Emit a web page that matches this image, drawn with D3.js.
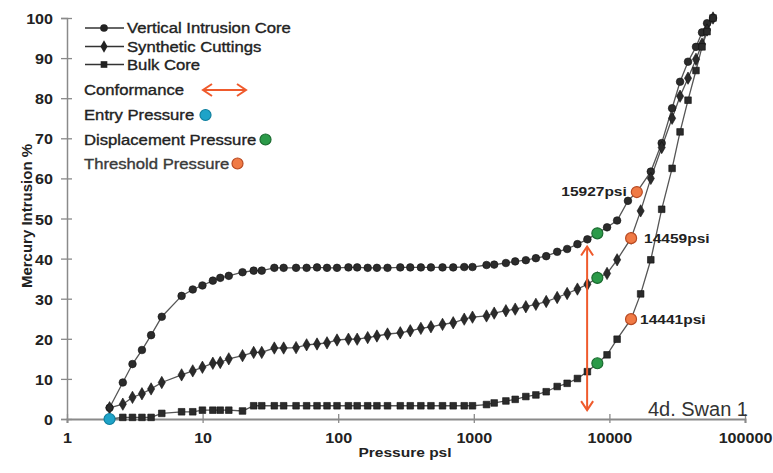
<!DOCTYPE html>
<html><head><meta charset="utf-8">
<script src="https://cdn.jsdelivr.net/npm/d3@7"></script>
<style>
html,body{margin:0;padding:0;background:#fff;}
text{font-family:"Liberation Sans",Arial,sans-serif;}
</style></head>
<body><svg id="chart" width="773" height="473"></svg>
<script>
// ---------------- data ----------------
const basePressures = [2.06, 2.58, 3.04, 3.57, 4.17, 5.0, 7.0, 8.46, 9.97, 11.9, 13.5, 15.6, 19.7, 23.8, 27.3, 33.8, 39.6, 48.9, 58.5, 69.8, 82.7, 98, 119, 138, 165, 193, 231, 287, 340, 407, 483, 588, 705, 850, 978, 1241, 1414, 1725, 2020, 2420, 2870, 3420, 4120, 4880, 5810, 6880, 8150, 9610, 11400];

const vicBase = [2.8, 9.1, 13.7, 17.2, 20.9, 25.5, 30.7, 32.3, 33.3, 34.5, 35.2, 35.7, 36.6, 37.0, 37.0, 37.7, 37.7, 37.7, 37.7, 37.8, 37.7, 37.7, 37.8, 37.8, 37.7, 37.7, 37.7, 37.8, 37.8, 37.8, 37.8, 37.8, 37.8, 37.9, 37.9, 38.4, 38.5, 38.9, 39.3, 39.6, 40.1, 40.6, 41.7, 42.4, 43.6, 44.8, 46.3, 47.8, 49.5];
const vicTailPressures = [13700, 15927, 20200, 24300, 29000, 33200, 38000, 43500, 48200, 52500, 58100];
const vicTailValues = [54.4, 56.6, 61.7, 68.8, 77.5, 84.1, 89.1, 92.8, 96.4, 98.7, 100];

const synBase = [2.8, 3.7, 5.4, 6.3, 7.5, 9.1, 11.0, 12.0, 12.9, 13.9, 14.1, 15.0, 15.8, 16.6, 16.6, 17.7, 17.7, 17.8, 18.5, 18.7, 19.0, 19.7, 19.9, 19.9, 20.3, 20.7, 21.2, 21.5, 22.0, 22.6, 23.0, 23.6, 24.0, 24.9, 25.4, 25.7, 26.4, 27.0, 27.4, 28.0, 28.6, 29.3, 30.3, 31.3, 32.4, 33.6, 35.2, 36.3, 39.7];
const synTailPressures = [14459, 17000, 20200, 24300, 29000, 33200, 38000, 43500, 48200, 52500, 58100];
const synTailValues = [45.1, 51.9, 60.0, 67.7, 75.0, 80.5, 85.0, 89.7, 93.5, 97.0, 100];

const bulkBase = [0, 0.4, 0.4, 0.4, 0.4, 1.4, 1.8, 1.8, 2.2, 2.2, 2.2, 2.2, 2.0, 3.3, 3.3, 3.3, 3.3, 3.3, 3.3, 3.3, 3.3, 3.3, 3.3, 3.3, 3.3, 3.3, 3.3, 3.3, 3.3, 3.3, 3.3, 3.3, 3.3, 3.3, 3.3, 3.6, 4.0, 4.5, 4.9, 5.6, 6.0, 6.8, 8.1, 8.9, 10.1, 11.8, 13.9, 16.0, 19.9];
const bulkTailPressures = [14441, 17000, 20200, 24300, 29000, 33200, 38000, 43500, 48200, 52500, 58100];
const bulkTailValues = [24.9, 31.2, 39.7, 52.3, 62.5, 71.6, 79.5, 86.9, 92.8, 96.6, 100];

const seriesNames = ["Vertical Intrusion Core", "Synthetic Cuttings", "Bulk Core"];
const seriesSymbols = ["circle", "diamond", "square"];

const entryPoint = {p: 2.06, v: 0};
const displacementPoints = [{p: 8150, v: 46.3}, {p: 8150, v: 35.2}, {p: 8150, v: 13.9}];
const thresholdPoints = [{p: 15927, v: 56.6, label: "15927psi"}, {p: 14459, v: 45.1, label: "14459psi"}, {p: 14441, v: 24.9, label: "14441psi"}];
const conformancePressure = 6850;
const conformanceRange = [2.2, 43.0];

const xTicks = [1, 10, 100, 1000, 10000, 100000];
const yTicks = [0, 10, 20, 30, 40, 50, 60, 70, 80, 90, 100];
const xTitle = "Pressure psl";
const yTitle = "Mercury Intrusion %";
const sampleName = "4d. Swan 1";

// ---------------- build ----------------
function zip(ps, vs) { return ps.map((p, i) => ({p, v: vs[i]})); }
const series = [
  zip(basePressures, vicBase).concat(zip(vicTailPressures, vicTailValues)),
  zip(basePressures, synBase).concat(zip(synTailPressures, synTailValues)),
  zip(basePressures, bulkBase).concat(zip(bulkTailPressures, bulkTailValues))
];

const svg = d3.select("#chart");
const x = d3.scaleLog().domain([1, 100000]).range([67, 745]);
const y = d3.scaleLinear().domain([0, 100]).range([419, 18]);

const AX = "#8a8a8a", TXT = "#222";
const ORANGE = "#ef5a2c";
const SX = 1.15; // horizontal stretch of the original picture's lettering

// stretched text helper
function stext(parent, tx, ty, str, opt) {
  opt = opt || {};
  const t = parent.append("text")
    .attr("transform", `translate(${tx},${ty}) scale(${SX},1)`)
    .attr("font-size", opt.size || 14.5)
    .attr("font-weight", opt.weight || "normal")
    .attr("fill", opt.fill || TXT)
    .attr("text-anchor", opt.anchor || "start")
    .text(str);
  if (opt.stroke) t.attr("stroke", opt.fill || TXT).attr("stroke-width", opt.stroke);
  return t;
}

// y axis
const yAx = svg.append("g").attr("transform", `translate(${x(1)},0)`)
  .call(d3.axisLeft(y).tickValues(yTicks).tickSize(6).tickPadding(8).tickFormat(d3.format("d")));
yAx.select(".domain").attr("stroke", AX).attr("stroke-width", 1.5);
yAx.selectAll(".tick line").attr("stroke", AX).attr("stroke-width", 1.3).attr("x1", 5);
yAx.selectAll(".tick text").each(function() {
  const t = d3.select(this);
  t.attr("x", null).attr("dy", null)
   .attr("transform", `translate(-14,5.5) scale(${SX},1)`)
   .attr("fill", TXT).attr("font-size", 14).attr("font-weight", "bold");
});

// x axis
const xAx = svg.append("g").attr("transform", `translate(0,${y(0)})`)
  .call(d3.axisBottom(x).tickValues(xTicks).tickSize(4).tickPadding(8).tickFormat(d3.format("d")));
xAx.select(".domain").attr("stroke", AX).attr("stroke-width", 2);
xAx.selectAll(".tick line").attr("stroke", AX).attr("stroke-width", 1.3).attr("y1", -5);
xAx.selectAll(".tick text").each(function() {
  const t = d3.select(this);
  t.attr("y", null).attr("dy", null)
   .attr("transform", `translate(0,24) scale(${SX},1)`)
   .attr("fill", TXT).attr("font-size", 14).attr("font-weight", "bold");
});

// axis titles
stext(svg, 405, 457, xTitle, {size: 13.5, weight: "bold", anchor: "middle"});
svg.append("text").attr("transform", "translate(32,216) rotate(-90)").attr("text-anchor", "middle")
  .attr("font-size", 15).attr("font-weight", "bold").attr("fill", TXT).text(yTitle);

// series
const line = d3.line().x(d => x(d.p)).y(d => y(d.v));
const symType = {circle: d3.symbolCircle, diamond: d3.symbolDiamond, square: d3.symbolSquare};
const symSize = {circle: 46, diamond: 44, square: 44};
series.forEach((s, i) => {
  svg.append("path").datum(s).attr("d", line).attr("fill", "none").attr("stroke", "#555").attr("stroke-width", 1.3);
});
series.forEach((s, i) => {
  const sym = d3.symbol().type(symType[seriesSymbols[i]]).size(symSize[seriesSymbols[i]]);
  svg.append("g").selectAll("path").data(s).join("path")
    .attr("transform", d => `translate(${x(d.p)},${y(d.v)})`)
    .attr("d", sym).attr("fill", "#2b2b2b").attr("stroke", "#111").attr("stroke-width", 0.6);
});

// conformance arrow
function vArrow(g, xx, y1, y2) {
  g.append("line").attr("x1", xx).attr("x2", xx).attr("y1", y1).attr("y2", y2);
  g.append("path").attr("d", `M${xx-6},${y1+9}L${xx},${y1}L${xx+6},${y1+9}`).attr("fill", "none");
  g.append("path").attr("d", `M${xx-6},${y2-9}L${xx},${y2}L${xx+6},${y2-9}`).attr("fill", "none");
}
const arr = svg.append("g").attr("stroke", ORANGE).attr("stroke-width", 2);
vArrow(arr, x(conformancePressure), y(conformanceRange[1]), y(conformanceRange[0]));

// highlight points
function dot(cx, cy, fill, stroke) {
  svg.append("circle").attr("cx", cx).attr("cy", cy).attr("r", 5.5).attr("fill", fill).attr("stroke", stroke).attr("stroke-width", 1.2);
}
const CYAN = "#1ea3c8", CYAN_S = "#0f7f9e";
const GREEN = "#2b9a49", GREEN_S = "#1b6b30";
const ORDOT = "#f07a45", ORDOT_S = "#b84a22";
dot(x(entryPoint.p), y(entryPoint.v), CYAN, CYAN_S);
displacementPoints.forEach(d => dot(x(d.p), y(d.v), GREEN, GREEN_S));
thresholdPoints.forEach(d => dot(x(d.p), y(d.v), ORDOT, ORDOT_S));

// threshold labels
const lblOpt = {size: 13.5, weight: "bold"};
stext(svg, x(thresholdPoints[0].p) - 10, y(thresholdPoints[0].v) + 4, thresholdPoints[0].label, Object.assign({anchor: "end"}, lblOpt));
stext(svg, x(thresholdPoints[1].p) + 13, y(thresholdPoints[1].v) + 5, thresholdPoints[1].label, lblOpt);
stext(svg, x(thresholdPoints[2].p) + 9, y(thresholdPoints[2].v) + 5, thresholdPoints[2].label, lblOpt);

// sample name
svg.append("text").attr("x", 748).attr("y", 416).attr("text-anchor", "end").attr("font-size", 20)
  .attr("fill", "#333").text(sampleName);

// legend
const legOpt = {size: 14.5, stroke: 0.35};
const legRows = [28, 46.5, 64.5];
seriesNames.forEach((n, i) => {
  const g = svg.append("g");
  g.append("line").attr("x1", 85).attr("x2", 124).attr("y1", legRows[i]).attr("y2", legRows[i]).attr("stroke", "#333").attr("stroke-width", 1.3);
  g.append("path").attr("transform", `translate(104,${legRows[i]})`)
    .attr("d", d3.symbol().type(symType[seriesSymbols[i]]).size(symSize[seriesSymbols[i]])()).attr("fill", "#222");
  stext(g, 127, legRows[i] + 5, n, legOpt);
});
stext(svg, 84, 95, "Conformance", legOpt);
const la = svg.append("g").attr("stroke", ORANGE).attr("stroke-width", 2).attr("fill", "none");
la.append("line").attr("x1", 203).attr("x2", 246).attr("y1", 90).attr("y2", 90);
la.append("path").attr("d", "M212,84L203,90L212,96");
la.append("path").attr("d", "M237,84L246,90L237,96");
stext(svg, 84, 120, "Entry Pressure", legOpt);
dot(205.5, 115, CYAN, CYAN_S);
stext(svg, 84, 145, "Displacement Pressure", legOpt);
dot(265.5, 139.5, GREEN, GREEN_S);
stext(svg, 84, 169, "Threshold Pressure", Object.assign({}, legOpt, {fill: "#3a3a3a"}));
dot(237.5, 163.5, ORDOT, ORDOT_S);
</script></body></html>
